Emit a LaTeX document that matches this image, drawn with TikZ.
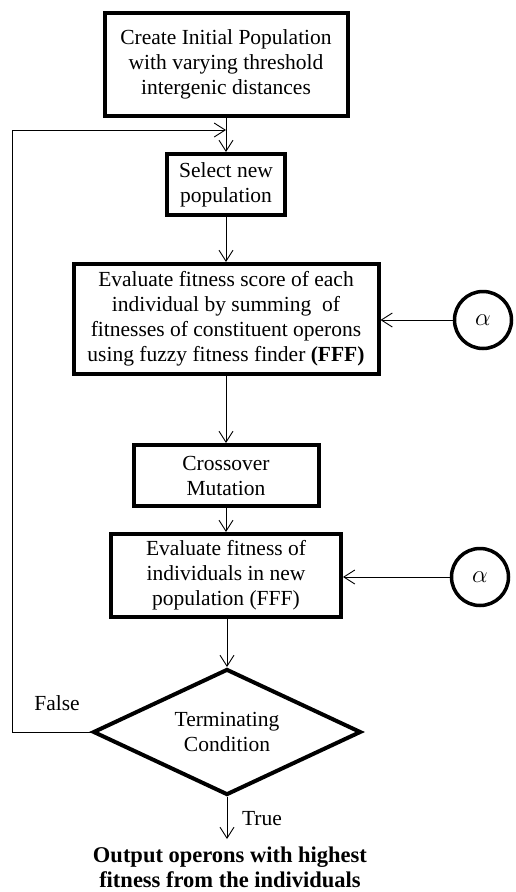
\documentclass[tikz,border=0pt]{standalone}
\usepackage{fontspec}
\setmainfont{Liberation Serif}
\usetikzlibrary{shapes.geometric,arrows.meta}
\begin{document}
\begin{tikzpicture}[x=1pt,y=-1pt,
  every node/.style={font=\fontsize{21.5}{25}\selectfont},
  box/.style={draw,line width=4pt,inner sep=0pt,align=center},
  arr/.style={line width=1pt,-{Straight Barb[length=11pt,width=14pt,line width=0.9pt]}},
  alphanode/.style={draw,circle,line width=3.5pt,minimum size=57pt,inner sep=0pt,font=\fontsize{28}{30}\selectfont}]
\useasboundingbox (0,0) rectangle (516,892);
\node[box,minimum width=243pt,minimum height=103pt] (init) at (226,64.5)
  {Create Initial Population\\with varying threshold\\intergenic distances};
\node[box,minimum width=118pt,minimum height=61pt] (sel) at (226,184.5)
  {Select new\\population};
\node[box,minimum width=305pt,minimum height=110pt] (eval) at (226,319)
  {Evaluate fitness score of each\\individual by summing\ \ of\\fitnesses of constituent operons\\using fuzzy fitness finder \textbf{(FFF)}};
\node[box,minimum width=185pt,minimum height=61pt] (cross) at (226,475.5)
  {Crossover\\Mutation};
\node[box,minimum width=230pt,minimum height=83pt] (neweval) at (226,575.5)
  {Evaluate fitness of\\individuals in new\\population (FFF)};
\node[draw,diamond,line width=4pt,inner sep=0pt,aspect=2.1,minimum width=268pt,minimum height=126pt,align=center] (term) at (227,732)
  {Terminating\\Condition};
\node[alphanode] (a1) at (483,320) {$\alpha$};
\node[alphanode] (a2) at (480,577) {$\alpha$};
\node (false) at (57,703) {False};
\node (true) at (262,819) {True};
\node[font=\fontsize{22.5}{25}\selectfont\bfseries,align=center] (out) at (230,867)
  {Output operons with highest\\fitness from the individuals};
\coordinate (join) at (226,130);
\coordinate (left) at (12,732);
\coordinate (outtop) at (227,839);
\draw[arr] (init.south) -- (sel.north);
\draw[arr] (sel.south) -- (eval.north);
\draw[arr] (eval.south) -- (cross.north);
\draw[arr] (cross.south) -- (neweval.north);
\draw[arr] (neweval.south -| term.north) -- (term.north);
\draw[arr] (term.south) -- (outtop);
\draw[arr] (a1.west) -- (eval.east |- a1.west);
\draw[arr] (a2.west) -- (neweval.east |- a2.west);
\draw[arr] (term.west) -- (left) |- (join);
\end{tikzpicture}
\end{document}
